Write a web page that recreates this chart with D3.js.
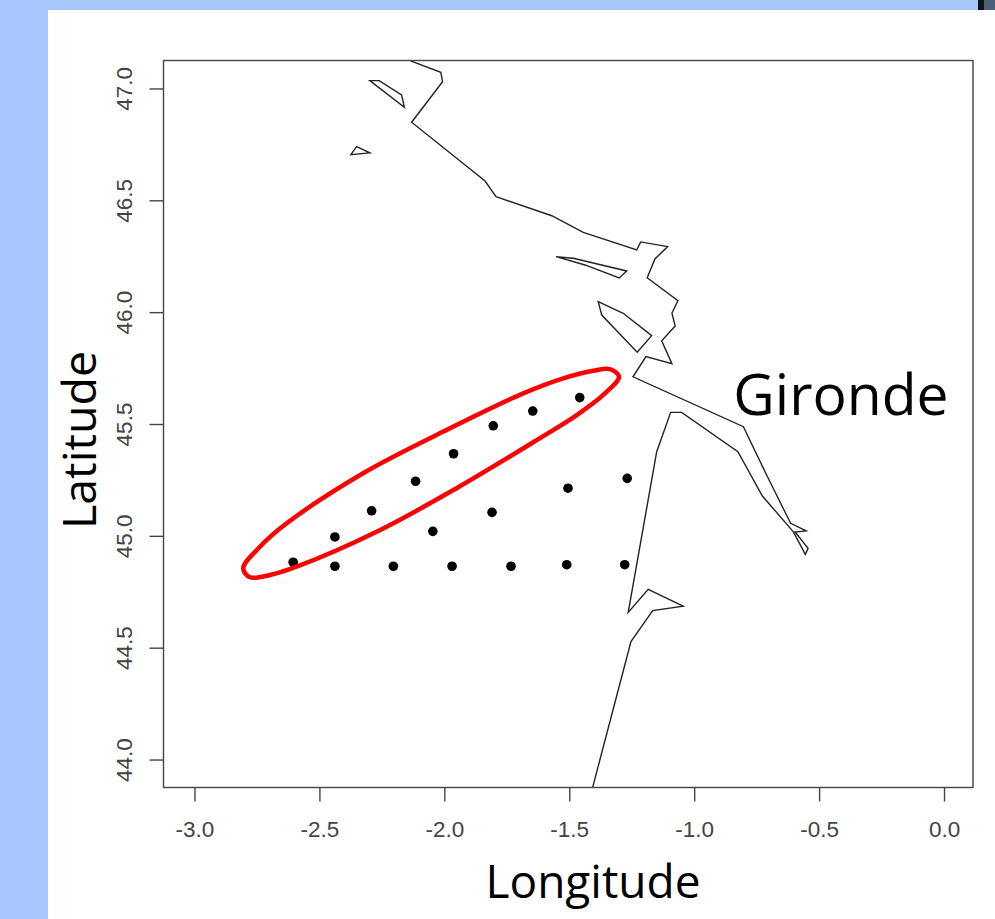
<!DOCTYPE html>
<html>
<head>
<meta charset="utf-8">
<script src="https://d3js.org/d3.v7.min.js"></script>
<style>
    html, body { margin: 0; padding: 0; background: #fff; }
    svg { display: block; }
    .axis text { font-family: "Liberation Sans", Arial, sans-serif; font-size: 22.5px; fill: #444; }
    .axis path, .axis line { stroke: #444; stroke-width: 1.4; }
    .big { font-family: "Open Sans", "Noto Sans", sans-serif; fill: #000; }
</style>
</head>
<body>
<svg id="chart" width="995" height="919"></svg>
<script>
// tick labels
var lonTicks = [-3.0, -2.5, -2.0, -1.5, -1.0, -0.5, 0.0];
var latTicks = [44.0, 44.5, 45.0, 45.5, 46.0, 46.5, 47.0];

// coast line, [lon, lat], north to south
var coast = [[-2.135,47.123],[-2.014,47.072],[-2.007,47.030],[-2.131,46.849],[-1.837,46.586],
    [-1.793,46.516],[-1.570,46.431],[-1.444,46.357],[-1.230,46.278],[-1.214,46.314],
    [-1.106,46.293],[-1.157,46.238],[-1.188,46.154],[-1.065,46.051],[-1.089,45.996],
    [-1.076,45.938],[-1.130,45.872],[-1.089,45.770],[-1.193,45.801],[-1.245,45.711],
    [-0.803,45.488],[-0.710,45.272],[-0.614,45.056],[-0.552,45.022],[-0.596,45.017],
    [-0.544,44.944],[-0.555,44.917],[-0.603,45.018],[-0.727,45.178],[-0.825,45.376],
    [-1.050,45.552],[-1.094,45.552],[-1.150,45.376],[-1.264,44.658],[-1.184,44.761],
    [-1.044,44.686],[-1.166,44.666],[-1.253,44.527],[-1.406,43.877]];

// islands
var yeu = [[-2.298,47.035],[-2.261,47.035],[-2.171,46.971],[-2.160,46.916]];
var smallIsland = [[-2.374,46.704],[-2.351,46.740],[-2.298,46.712]];
var reIsland = [[-1.553,46.248],[-1.484,46.241],[-1.270,46.184],[-1.300,46.153],[-1.437,46.211]];
var oleron = [[-1.384,46.047],[-1.284,45.995],[-1.170,45.895],[-1.228,45.821],[-1.370,45.987]];

// sampling stations
var stationLon = [-2.605,-2.438,-2.291,-2.115,-1.963,-1.804,-1.646,-1.458,
    -2.438,-2.204,-1.969,-1.733,-1.510,-1.278,
    -2.046,-1.809,-1.505,-1.268];
var stationLat = [44.882,44.995,45.112,45.244,45.367,45.492,45.558,45.618,
    44.864,44.864,44.864,44.864,44.871,44.871,
    45.020,45.105,45.213,45.257];

// hand drawn red outline
var outline = [[-1.301,45.711],[-1.337,45.745],[-1.404,45.738],[-1.524,45.704],[-1.684,45.637],
    [-2.004,45.466],[-2.325,45.280],[-2.631,45.056],[-2.738,44.951],[-2.805,44.855],
    [-2.778,44.815],[-2.698,44.825],[-2.591,44.862],[-2.271,45.018],[-1.951,45.213],
    [-1.630,45.428],[-1.470,45.540],[-1.364,45.630]];

var svg = d3.select('#chart');
var left = 163.5, right = 973, plotTop = 60.5, bottom = 787.5;

var x = d3.scaleLinear().domain([-3.124, 0.116]).range([left, right]);
var y = d3.scaleLinear().domain([43.875, 47.125]).range([bottom, plotTop]);

// slide background
svg.append('rect').attr('width', 995).attr('height', 919).attr('fill', '#a8c6fe');
svg.append('rect').attr('x', 48).attr('y', 10).attr('width', 947).attr('height', 909).attr('fill', '#fff');
svg.append('rect').attr('x', 978).attr('y', 0).attr('width', 6).attr('height', 10).attr('fill', '#111');
svg.append('rect').attr('x', 984).attr('y', 0).attr('width', 11).attr('height', 10).attr('fill', '#4a5f78');

var line = d3.line().x(function(d) { return x(d[0]); }).y(function(d) { return y(d[1]); });
var ring = d3.line().x(function(d) { return x(d[0]); }).y(function(d) { return y(d[1]); })
    .curve(d3.curveLinearClosed);

svg.append('path').attr('d', line(coast))
    .attr('fill', 'none').attr('stroke', '#222').attr('stroke-width', 1.4);

svg.selectAll('.island').data([yeu, smallIsland, reIsland, oleron]).enter().append('path')
    .attr('class', 'island')
    .attr('d', function(d) { return ring(d); })
    .attr('fill', 'none').attr('stroke', '#222').attr('stroke-width', 1.4);

// frame and axes
svg.append('rect').attr('x', left).attr('y', plotTop)
    .attr('width', right - left).attr('height', bottom - plotTop)
    .attr('fill', 'none').attr('stroke', '#444').attr('stroke-width', 1.4);

var xAxis = d3.axisBottom(x).tickValues(lonTicks).tickSize(14).tickPadding(20)
    .tickFormat(d3.format('.1f'));
svg.append('g').attr('class', 'axis').attr('transform', 'translate(0,' + bottom + ')').call(xAxis)
    .call(function(g) { g.select('.domain').remove(); })
    .selectAll('text').text(function(d) { return d3.format('.1f')(d).replace('\u2212', '-'); });

var yAxis = d3.axisLeft(y).tickValues(latTicks).tickSize(14).tickFormat(d3.format('.1f'));
var yg = svg.append('g').attr('class', 'axis').attr('transform', 'translate(' + left + ',0)').call(yAxis);
yg.select('.domain').remove();
yg.selectAll('text')
    .attr('x', 0).attr('dy', 0)
    .attr('text-anchor', 'middle')
    .attr('transform', 'translate(-32,0) rotate(-90)');

// stations
svg.selectAll('.station').data(stationLon).enter().append('circle')
    .attr('class', 'station')
    .attr('cx', function(d) { return x(d); })
    .attr('cy', function(d, i) { return y(stationLat[i]); })
    .attr('r', 4.8)
    .attr('fill', '#000');

svg.append('path')
    .attr('d', d3.line().x(function(d) { return x(d[0]); }).y(function(d) { return y(d[1]); })
        .curve(d3.curveCatmullRomClosed.alpha(0.5))(outline))
    .attr('fill', 'none').attr('stroke', '#f00').attr('stroke-width', 4.5);

// labels placed on the slide
svg.append('text').attr('class', 'big').attr('x', 841).attr('y', 415)
    .attr('text-anchor', 'middle').attr('font-size', 57).text('Gironde');
svg.append('text').attr('class', 'big').attr('x', 593).attr('y', 898)
    .attr('text-anchor', 'middle').attr('font-size', 46).text('Longitude');
svg.append('text').attr('class', 'big')
    .attr('transform', 'translate(96,440) rotate(-90)')
    .attr('text-anchor', 'middle').attr('font-size', 46.5).text('Latitude');
</script>
</body>
</html>
